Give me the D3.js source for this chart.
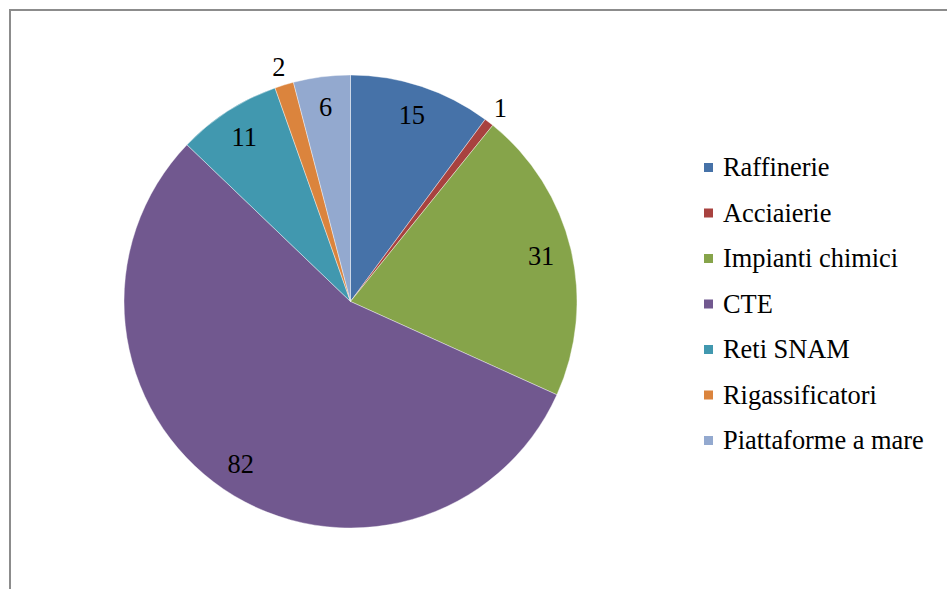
<!DOCTYPE html>
<html>
  <head>
    <meta charset="utf-8" />
    <script src="https://d3js.org/d3.v7.min.js"></script>
    <style>
        body {
          margin: 0;
          background: #fff;
        }
      </style>
  </head>
  <body>

    <svg id="viz"></svg>

      <script>
        var categories = ["Raffinerie", "Acciaierie", "Impianti chimici", "CTE",
                          "Reti SNAM", "Rigassificatori", "Piattaforme a mare"];
        var values = [15, 1, 31, 82, 11, 2, 6];
        var colors = ["#4672A8", "#A8423F", "#86A44A", "#71588F",
                      "#4198AF", "#DB843D", "#93A9CF"];

        var width = 947;
        var height = 589;
        var serif = "'Liberation Serif', 'DejaVu Serif', serif";

        var svg = d3.select("#viz")
            .attr("width", width)
            .attr("height", height)
            .style("font-family", serif);

        // chart border (runs off right and bottom edge)
        svg.append("rect")
            .attr("x", 10)
            .attr("y", 10)
            .attr("width", width)
            .attr("height", height)
            .attr("fill", "#fff")
            .attr("stroke", "#8c8c8c")
            .attr("stroke-width", 2);

        var cx = 350.5, cy = 301.5, r = 226.5;
        // text drawn at 20px and scaled up, to keep the serif face
        var baseSize = 20, textScale = 1.32;

        var data = categories.map(function(c, i) {
            return {name: c, value: values[i], color: colors[i]};
        });

        var pie = d3.pie()
            .sort(null)
            .value(function(d) { return d.value; });

        var arc = d3.arc()
            .innerRadius(0)
            .outerRadius(r);

        var total = d3.sum(values);
        var inside = d3.arc().innerRadius(r * 0.865).outerRadius(r * 0.865);
        var outside = d3.arc().innerRadius(r + 18.5).outerRadius(r + 18.5);

        var g = svg.append("g")
            .attr("transform", "translate(" + cx + "," + cy + ")");

        var arcs = pie(data);

        g.selectAll("path")
            .data(arcs)
            .enter().append("path")
            .attr("d", arc)
            .attr("fill", function(d) { return d.data.color; })
            .attr("stroke", "#fff")
            .attr("stroke-width", 0.4);

        g.selectAll("text.lbl")
            .data(arcs)
            .enter().append("text")
            .attr("class", "lbl")
            .attr("transform", function(d) {
                var a = d.data.value / total < 0.02 ? outside : inside;
                return "translate(" + a.centroid(d) + ") scale(" + textScale + ")";
            })
            .attr("text-anchor", "middle")
            .attr("dominant-baseline", "central")
            .attr("font-family", serif)
            .attr("font-size", baseSize)
            .attr("fill", "#000")
            .text(function(d) { return d.data.value; });

        // legend
        var legend = svg.append("g")
            .attr("transform", "translate(704,167)");

        var rows = legend.selectAll("g")
            .data(data)
            .enter().append("g")
            .attr("transform", function(d, i) { return "translate(0," + (i * 45.5) + ")"; });

        rows.append("rect")
            .attr("x", 0)
            .attr("y", -4)
            .attr("width", 9)
            .attr("height", 9)
            .attr("fill", function(d) { return d.color; });

        rows.append("text")
            .attr("transform", "translate(19,0) scale(" + textScale + ")")
            .attr("dominant-baseline", "central")
            .attr("font-family", serif)
            .attr("font-size", baseSize)
            .attr("fill", "#000")
            .text(function(d) { return d.name; });

      </script>

  </body>
</html>
